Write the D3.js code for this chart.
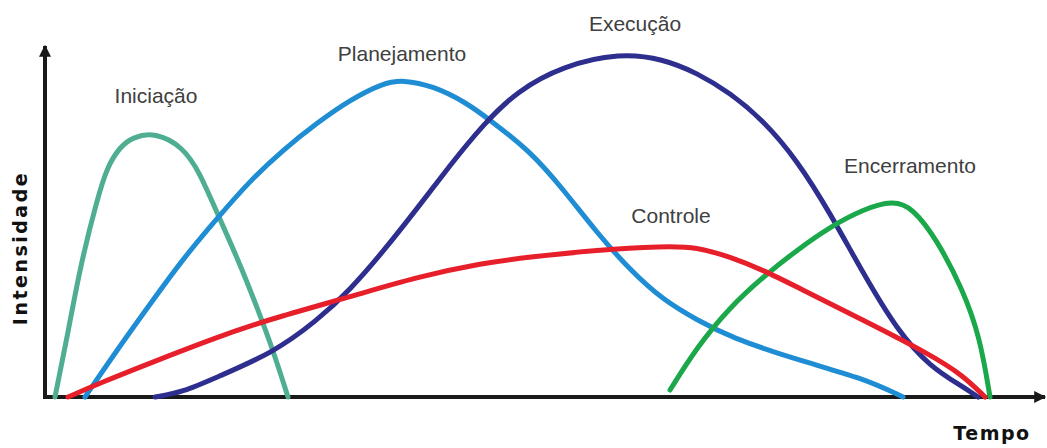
<!DOCTYPE html>
<html>
<head>
<meta charset="utf-8">
<script src="https://cdn.jsdelivr.net/npm/d3@7"></script>
<style>
  html, body { margin: 0; padding: 0; background: #fff; }
  svg { display: block; }
</style>
</head>
<body>
<svg id="chart" width="1047" height="448"></svg>
<script>
// ---- Data (time units 0..100, intensity units 0..100) ----
const iniciacaoX = [1, 2.3, 3.5, 5.2, 6.2, 7.5, 8.8, 11, 13.8, 15.5, 17.2, 19.2, 21.2, 22.8, 24.3];
const iniciacaoY = [0, 18.3, 37.1, 56.3, 65.7, 71.5, 74.3, 75.6, 71.5, 64, 52.6, 40, 25.7, 13.4, 0];

const planejamentoX = [4, 7.2, 10.5, 13.8, 17.2, 20.5, 23.8, 27.2, 30.5, 33.8, 35.8, 38.8, 42.2, 44.5, 48.5, 51.8, 55.2, 58.5, 61.8, 65.2, 68.5, 75.2, 81.8, 85.8];
const planejamentoY = [0, 13.4, 26.5, 39.5, 51, 61.8, 70.6, 78.3, 84.9, 89.7, 90.6, 88.9, 84, 79.1, 70.3, 59.4, 46.9, 36.3, 27.7, 22, 17.1, 10.6, 5.4, 0];

const execucaoX = [11, 13.8, 17.2, 22.8, 27.2, 30.5, 33.8, 37.2, 40.5, 43.8, 47.2, 51.8, 57.5, 61.8, 65.2, 68.5, 71.8, 75.2, 78.5, 81.8, 85.2, 88.5, 91.8, 93.3];
const execucaoY = [0, 1.4, 5.7, 12.6, 21.8, 30.6, 41.5, 53.8, 66.2, 77.8, 87.4, 94.6, 98.3, 96.6, 92.6, 86.9, 79.1, 67.7, 52.6, 35.4, 19.1, 8.6, 2.9, 0];

const controleX = [2.3, 5.5, 10.5, 17.2, 22.2, 30.5, 37.2, 43.8, 48.5, 55.2, 61.8, 65.2, 68.5, 71.8, 75.2, 81.8, 88.5, 91.8, 94];
const controleY = [0, 4, 9.7, 17.1, 22, 28.6, 34.3, 38.3, 40, 42, 43.1, 42.9, 40, 36.3, 31.4, 22, 12.2, 6.2, 0];

const encerramentoX = [62.5, 65.2, 68.5, 71.8, 75.2, 78.5, 81.8, 84.8, 86.8, 89.2, 91.8, 93.5, 94.5];
const encerramentoY = [2, 14.3, 25.7, 34.3, 42, 48.6, 53.6, 56.2, 54, 44.9, 30.6, 17.1, 0];

const seriesNames = ["Iniciação", "Planejamento", "Execução", "Encerramento", "Controle"];
const seriesColors = ["#4fae92", "#1f8dd3", "#2d2e8e", "#1ba84a", "#e61f2b"];

// label anchors (data units)
const labelX = [11.1, 35.7, 59.0, 86.5, 62.6];
const labelY = [84, 96, 104.6, 64, 49.7];

const xAxisTitle = "Tempo";
const yAxisTitle = "Intensidade";

// ---- Drawing ----
const svg = d3.select("#chart");
const x = d3.scaleLinear().domain([0, 100]).range([45, 1045]);
const y = d3.scaleLinear().domain([0, 100]).range([397, 47]);

const defs = svg.append("defs");
defs.append("marker")
  .attr("id", "arrow")
  .attr("viewBox", "0 0 10 10")
  .attr("refX", 9).attr("refY", 5)
  .attr("markerWidth", 3.2).attr("markerHeight", 3)
  .attr("markerUnits", "strokeWidth")
  .attr("orient", "auto")
  .append("path").attr("d", "M0,0 L10,5 L0,10 Z").attr("fill", "#1a1a1a");

const xs = [iniciacaoX, planejamentoX, execucaoX, encerramentoX, controleX];
const ys = [iniciacaoY, planejamentoY, execucaoY, encerramentoY, controleY];

const line = d3.line()
  .x(d => x(d[0]))
  .y(d => y(d[1]))
  .curve(d3.curveBasis);

const series = seriesNames.map((n, i) => ({
  name: n,
  color: seriesColors[i],
  points: xs[i].map((v, j) => [v, ys[i][j]])
}));

// axes
const axisG = svg.append("g");
axisG.append("line")
  .attr("x1", x(0)).attr("y1", y(0))
  .attr("x2", x(0)).attr("y2", y(100) - 1)
  .attr("stroke", "#1a1a1a").attr("stroke-width", 4)
  .attr("marker-end", "url(#arrow)");
axisG.append("line")
  .attr("x1", x(0) - 2).attr("y1", y(0))
  .attr("x2", x(100)).attr("y2", y(0))
  .attr("stroke", "#1a1a1a").attr("stroke-width", 4)
  .attr("marker-end", "url(#arrow)");

// curves
svg.append("g").selectAll("path")
  .data(series)
  .join("path")
  .attr("d", d => line(d.points))
  .attr("fill", "none")
  .attr("stroke", d => d.color)
  .attr("stroke-width", 5)
  .attr("stroke-linecap", "round")
  .attr("stroke-linejoin", "round");

// labels
svg.append("g").selectAll("text")
  .data(seriesNames)
  .join("text")
  .attr("x", (d, i) => x(labelX[i]))
  .attr("y", (d, i) => y(labelY[i]))
  .attr("text-anchor", "middle")
  .attr("font-family", "'Liberation Sans', Arial, sans-serif")
  .attr("font-size", 21)
  .attr("fill", "#404040")
  .text(d => d);

// axis titles
svg.append("text")
  .attr("x", 992).attr("y", 440)
  .attr("text-anchor", "middle")
  .attr("font-family", "'DejaVu Sans', sans-serif")
  .attr("font-weight", "bold")
  .attr("font-size", 19)
  .attr("letter-spacing", 1.5)
  .attr("fill", "#111")
  .text(xAxisTitle);

svg.append("text")
  .attr("transform", "translate(27,248) rotate(-90)")
  .attr("text-anchor", "middle")
  .attr("font-family", "'DejaVu Sans', sans-serif")
  .attr("font-weight", "bold")
  .attr("font-size", 19)
  .attr("letter-spacing", 2.5)
  .attr("fill", "#111")
  .text(yAxisTitle);
</script>
</body>
</html>
